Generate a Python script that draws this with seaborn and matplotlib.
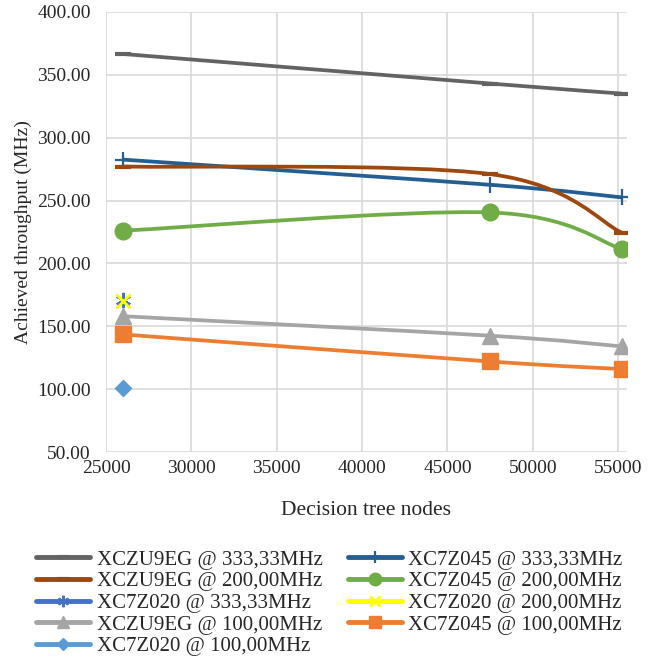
import numpy as np
import seaborn as sns
import matplotlib.pyplot as plt
from matplotlib.path import Path
from matplotlib.patches import PathPatch
from matplotlib.lines import Line2D

# decision tree node counts
nodes_full = [26000, 47500, 55200]
nodes_one = [26000]

# achieved throughput (MHz) per device / clock
zu9eg_333 = [366.5, 343.0, 335.0]
z045_333 = [282.5, 262.5, 252.5]
zu9eg_200 = [277.0, 271.0, 224.5]
z045_200 = [226.0, 240.5, 211.5]
z020_333 = [171.0]
z020_200 = [170.0]
zu9eg_100 = [158.0, 142.5, 134.0]
z045_100 = [143.5, 122.0, 116.0]
z020_100 = [101.0]

series = [
    # label, x, y, color, marker, markersize, mew
    ("XCZU9EG @ 333,33MHz", nodes_full, zu9eg_333, "#636363", "_", 11, 3),
    ("XC7Z045 @ 333,33MHz", nodes_full, z045_333, "#255E91", "+", 11, 1.6),
    ("XCZU9EG @ 200,00MHz", nodes_full, zu9eg_200, "#9E480E", "_", 11, 3),
    ("XC7Z045 @ 200,00MHz", nodes_full, z045_200, "#70AD47", "o", 12, 1),
    ("XC7Z020 @ 333,33MHz", nodes_one, z020_333, "#4472C4", (6, 2, 0), 11, 1.6),
    ("XC7Z020 @ 200,00MHz", nodes_one, z020_200, "#FFFF00", "x", 10, 2),
    ("XCZU9EG @ 100,00MHz", nodes_full, zu9eg_100, "#A5A5A5", "^", 12, 1),
    ("XC7Z045 @ 100,00MHz", nodes_full, z045_100, "#ED7D31", "s", 12, 1),
    ("XC7Z020 @ 100,00MHz", nodes_one, z020_100, "#5B9BD5", "D", 8.5, 1),
]


def smooth_path(x, y):
    # excel-style smoothed line: cubic bezier through the data points
    p = np.column_stack([x, y]).astype(float)
    n = len(p)
    verts = [p[0]]
    codes = [Path.MOVETO]
    for i in range(n - 1):
        prev = p[max(i - 1, 0)]
        nxt = p[min(i + 2, n - 1)]
        c1 = p[i] + (p[i + 1] - prev) / 6
        c2 = p[i + 1] - (nxt - p[i]) / 6
        verts += [c1, c2, p[i + 1]]
        codes += [Path.CURVE4] * 3
    return Path(verts, codes)


sns.set_style("white")
plt.rcParams["font.family"] = ["Liberation Serif", "DejaVu Serif"]

fig = plt.figure(figsize=(6.59, 6.58), dpi=100)
ax = fig.add_axes([0.161, 0.313, 0.79, 0.669])

handles = []
for label, x, y, color, marker, ms, mew in series:
    if len(x) > 1:
        ax.add_patch(PathPatch(smooth_path(x, y), facecolor="none",
                               edgecolor=color, lw=2.7, capstyle="butt", zorder=3))
    sns.lineplot(x=x, y=y, ax=ax, color=color, marker=marker, markersize=ms,
                 markeredgewidth=mew, markeredgecolor=color, linestyle="",
                 zorder=4)
    handles.append(Line2D([], [], color=color, lw=3.5, marker=marker,
                          markersize=ms * 0.75, markeredgewidth=mew,
                          markeredgecolor=color, label=label))

ax.set_xlim(25000, 55500)
ax.set_ylim(50, 400)
ax.set_xticks(np.arange(25000, 55001, 5000))
ax.set_yticks(np.arange(50, 401, 50))
ax.set_yticklabels([f"{v:.2f}" for v in np.arange(50, 401, 50)])
ax.tick_params(labelsize=14, length=0)
ax.tick_params(axis="y", pad=11)
ax.tick_params(axis="x", pad=6)
ax.grid(True, color="#D9D9D9", lw=1.2)
ax.set_axisbelow(True)
for s in ax.spines.values():
    s.set_visible(False)

ax.set_xlabel("Decision tree nodes", fontsize=15.5, labelpad=17)
ax.set_ylabel("Achieved throughput (MHz)", fontsize=14, labelpad=4)

order = [0, 2, 4, 6, 8, 1, 3, 5, 7]
fig.legend(handles=[handles[i] for i in order], loc="upper left",
           bbox_to_anchor=(0.055, 0.164), ncol=2, frameon=False,
           fontsize=15, handlelength=2.6, handletextpad=0.3,
           labelspacing=0.1, columnspacing=1.2, borderpad=0, borderaxespad=0)

fig.savefig("out.png", dpi=100)
